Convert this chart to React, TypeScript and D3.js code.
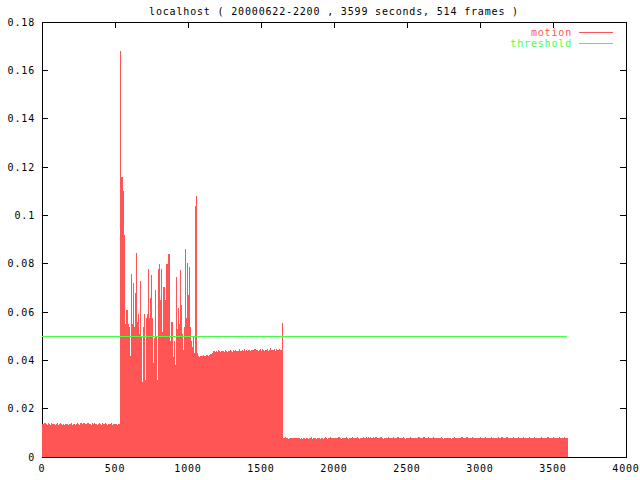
import React from "react";
import * as d3 from "d3";

const title = "localhost ( 20000622-2200 , 3599 seconds, 514 frames )";
const seriesNames = ["motion", "threshold"];
const totalSeconds = 3599;
const threshold = 0.05;
const xTicks = [0, 500, 1000, 1500, 2000, 2500, 3000, 3500, 4000];
const yTicks = [0, 0.02, 0.04, 0.06, 0.08, 0.1, 0.12, 0.14, 0.16, 0.18];

// motion per frame, idle start
const idleStart = [
  0.0135, 0.0138, 0.0132, 0.014, 0.0136, 0.0134, 0.0139, 0.0137, 0.0133, 0.0141,
  0.0136, 0.0135, 0.0138, 0.0134, 0.0137, 0.014, 0.0133, 0.0136, 0.0139, 0.0135,
  0.0134, 0.0137, 0.0131, 0.0136, 0.0138, 0.0135, 0.0133, 0.0137, 0.0136, 0.014,
  0.0134, 0.0138, 0.0135, 0.0132, 0.0137, 0.0141, 0.0136, 0.0134, 0.0139, 0.0137,
  0.0135, 0.0142, 0.0136, 0.0133, 0.0138, 0.014, 0.0135, 0.0137, 0.0134, 0.0139,
  0.0136, 0.0141, 0.0135, 0.0138, 0.0133, 0.0137, 0.014, 0.0136, 0.0134, 0.0139,
  0.0135, 0.0137, 0.0142, 0.0136, 0.0134, 0.0138, 0.0135, 0.0137, 0.0139, 0.0134,
  0.0136, 0.0138, 0.0135, 0.0137, 0.0134, 0.0136, 0.0138,
];

// motion per frame, active period
const activePeriod = [
  0.168, 0.116, 0.11, 0.092, 0.054, 0.055, 0.061, 0.055, 0.054, 0.042,
  0.0757, 0.055, 0.072, 0.054, 0.068, 0.0845, 0.056, 0.059, 0.051, 0.073,
  0.0498, 0.031, 0.054, 0.059, 0.0317, 0.0575, 0.059, 0.078, 0.0575, 0.0657,
  0.0753, 0.0575, 0.0389, 0.0492, 0.069, 0.0498, 0.032, 0.078, 0.0798, 0.065,
  0.078, 0.0519, 0.0705, 0.0498, 0.065, 0.08, 0.059, 0.084, 0.0368, 0.048,
  0.056, 0.0415, 0.048, 0.038, 0.0745, 0.053, 0.0616, 0.055, 0.0774, 0.0628,
  0.051, 0.0443, 0.054, 0.086, 0.0575, 0.0804, 0.067, 0.0788, 0.054, 0.048,
  0.0456, 0.05, 0.043, 0.104, 0.108, 0.043,
];

// motion per frame, plateau
const plateau = [
  0.0418, 0.0415, 0.042, 0.0417, 0.0416, 0.0421, 0.0418, 0.0419, 0.0422, 0.0417,
  0.042, 0.0423, 0.0425, 0.0428, 0.0432, 0.0437, 0.0434, 0.0438, 0.0436, 0.0441,
  0.0438, 0.0436, 0.044, 0.0437, 0.0439, 0.0435, 0.0441, 0.0438, 0.0436, 0.044,
  0.0437, 0.0442, 0.0439, 0.0436, 0.0441, 0.0438, 0.0443, 0.0437, 0.044, 0.0438,
  0.0445, 0.0439, 0.0437, 0.0442, 0.044, 0.0446, 0.0438, 0.0441, 0.0439, 0.0443,
  0.044, 0.0437, 0.0444, 0.0441, 0.0439, 0.0447, 0.044, 0.0443, 0.0438, 0.0442,
  0.0445, 0.044, 0.0448, 0.0441, 0.0439, 0.0444, 0.0442, 0.0446, 0.044, 0.0443,
  0.0449, 0.0441, 0.0444, 0.0442, 0.0447, 0.044, 0.0445, 0.0443, 0.0441, 0.0446,
  0.0444, 0.0442,
];

const plateauEnd = [0.0556];

// motion per frame, idle end
const idleEnd = [
  0.008, 0.0078, 0.0081, 0.0077, 0.0079, 0.0076, 0.008, 0.0078, 0.0077, 0.0079,
  0.0076, 0.0078, 0.0075, 0.0079, 0.0077, 0.008, 0.0076, 0.0078, 0.0074, 0.0077,
  0.0079, 0.0076, 0.0078, 0.0077, 0.0075, 0.0079, 0.0077, 0.0081, 0.0076, 0.0078,
  0.0077, 0.0079, 0.0076, 0.0078, 0.008, 0.0077, 0.0075, 0.0078, 0.0079, 0.0076,
  0.0078, 0.0081, 0.0077, 0.0076, 0.0079, 0.0078, 0.0082, 0.0077, 0.0079, 0.0076,
  0.0078, 0.008, 0.0077, 0.0079, 0.0083, 0.0078, 0.0076, 0.008, 0.0078, 0.0077,
  0.0079, 0.0081, 0.0078, 0.0076, 0.008, 0.0079, 0.0077, 0.0082, 0.0078, 0.008,
  0.0077, 0.0079, 0.0081, 0.0078, 0.0076, 0.008, 0.0079, 0.0077, 0.0081, 0.0078,
  0.008, 0.0082, 0.0079, 0.0081, 0.0078, 0.0083, 0.008, 0.0079, 0.0082, 0.0078,
  0.0081, 0.0079, 0.0077, 0.008, 0.0078, 0.0081, 0.0079, 0.0076, 0.008, 0.0078,
  0.0077, 0.0079, 0.0081, 0.0078, 0.008, 0.0077, 0.0079, 0.0082, 0.0078, 0.008,
  0.0079, 0.0084, 0.0081, 0.0078, 0.008, 0.0079, 0.0077, 0.0081, 0.0078, 0.0076,
  0.0078, 0.008, 0.0077, 0.0079, 0.0081, 0.0078, 0.008, 0.0077, 0.0079, 0.0078,
  0.008, 0.0078, 0.0082, 0.0079, 0.0077, 0.008, 0.0078, 0.0081, 0.0079, 0.0077,
  0.0079, 0.0081, 0.0078, 0.008, 0.0077, 0.0079, 0.0082, 0.0078, 0.008, 0.0079,
  0.0078, 0.008, 0.0077, 0.0079, 0.0081, 0.0078, 0.0076, 0.008, 0.0078, 0.0079,
  0.0077, 0.0079, 0.0078, 0.008, 0.0076, 0.0079, 0.0077, 0.0081, 0.0078, 0.008,
  0.0079, 0.0077, 0.008, 0.0078, 0.0082, 0.0079, 0.0077, 0.008, 0.0078, 0.0081,
  0.0078, 0.008, 0.0079, 0.0077, 0.0081, 0.0078, 0.008, 0.0079, 0.0077, 0.008,
  0.0079, 0.0078, 0.0081, 0.0079, 0.0077, 0.008, 0.0078, 0.0082, 0.0079, 0.0078,
  0.008, 0.0077, 0.0079, 0.0081, 0.0078, 0.008, 0.0077, 0.0079, 0.0078, 0.008,
  0.0081, 0.0078, 0.008, 0.0084, 0.0079, 0.0077, 0.008, 0.0078, 0.0081, 0.0079,
  0.0077, 0.008, 0.0078, 0.0079, 0.0081, 0.0077, 0.0079, 0.008, 0.0078, 0.0082,
  0.0079, 0.0077, 0.008, 0.0078, 0.0081, 0.0079, 0.0077, 0.008, 0.0078, 0.0079,
  0.0081, 0.0078, 0.008, 0.0077, 0.0079, 0.0082, 0.0078, 0.008, 0.0079, 0.0077,
  0.008, 0.0078, 0.0081, 0.0079, 0.0077, 0.008, 0.0078, 0.0079, 0.0081, 0.0078,
  0.0077, 0.008, 0.0078, 0.0082, 0.0079, 0.0077, 0.008, 0.0078, 0.0079, 0.0081,
  0.0078, 0.008, 0.0077, 0.0079, 0.0081, 0.0078, 0.008, 0.0079,
];

const motion = [...idleStart, ...activePeriod, ...plateau, ...plateauEnd, ...idleEnd];

const W = 640;
const H = 480;
const M = { left: 42, right: 626, top: 22, bottom: 457 };
const RED = "#ff5555";
const GREEN = "#44ff44";
const FONT = "'DejaVu Sans Mono', monospace";
const FS = 10;
const LS = 0.83;

export default function App() {
  const x = d3.scaleLinear().domain([0, 4000]).range([M.left, M.right]);
  const y = d3.scaleLinear().domain([0, 0.18]).range([M.bottom, M.top]);
  const n = motion.length;
  const step = totalSeconds / (n - 1);
  const stepPx = x(step) - x(0);
  const tickLen = 6;

  return (
    <svg
      width={W}
      height={H}
      style={{ position: "absolute", left: 0, top: 0, background: "#fff" }}
      fontFamily={FONT}
      fontSize={FS}
      letterSpacing={LS}
    >
      <rect x={0} y={0} width={W} height={H} fill="#fff" />
      <rect
        x={M.left}
        y={M.top}
        width={M.right - M.left}
        height={M.bottom - M.top}
        fill="none"
        stroke="#000"
        strokeWidth={1}
        shapeRendering="crispEdges"
      />
      {yTicks.map((t) => (
        <g key={"y" + t}>
          <line x1={M.left} x2={M.left + tickLen} y1={y(t)} y2={y(t)} stroke="#000" shapeRendering="crispEdges" />
          <line x1={M.right} x2={M.right - tickLen} y1={y(t)} y2={y(t)} stroke="#000" shapeRendering="crispEdges" />
          <text x={35} y={y(t)} dy="0.35em" textAnchor="end" fill="#000">
            {String(+t.toFixed(2))}
          </text>
        </g>
      ))}
      {xTicks.map((t) => (
        <g key={"x" + t}>
          <line x1={x(t)} x2={x(t)} y1={M.bottom} y2={M.bottom - tickLen} stroke="#000" shapeRendering="crispEdges" />
          <line x1={x(t)} x2={x(t)} y1={M.top} y2={M.top + tickLen} stroke="#000" shapeRendering="crispEdges" />
          <text x={x(t)} y={468} dy="0.35em" textAnchor="middle" fill="#000">
            {String(t)}
          </text>
        </g>
      ))}
      <g fill={RED} shapeRendering="crispEdges">
        {motion.map((v, i) => {
          const xc = x(i * step);
          const x0 = Math.max(M.left, xc - 0.6);
          return (
            <rect key={i} x={x0} y={y(v)} width={xc - 0.6 + stepPx + 0.2 - x0} height={y(0) - y(v)} />
          );
        })}
      </g>
      <line
        x1={x(0)}
        x2={x(totalSeconds)}
        y1={y(threshold)}
        y2={y(threshold)}
        stroke={GREEN}
        strokeWidth={1}
        shapeRendering="crispEdges"
      />
      <text x={(M.left + M.right) / 2} y={11} dy="0.35em" textAnchor="middle" fill="#000">
        {title}
      </text>
      <text x={572} y={32} dy="0.35em" textAnchor="end" fill={RED}>
        {seriesNames[0]}
      </text>
      <line x1={579} x2={613} y1={32} y2={32} stroke={RED} shapeRendering="crispEdges" />
      <text x={572} y={43} dy="0.35em" textAnchor="end" fill={GREEN}>
        {seriesNames[1]}
      </text>
      <line x1={579} x2={613} y1={43} y2={43} stroke={GREEN} shapeRendering="crispEdges" />
    </svg>
  );
}
